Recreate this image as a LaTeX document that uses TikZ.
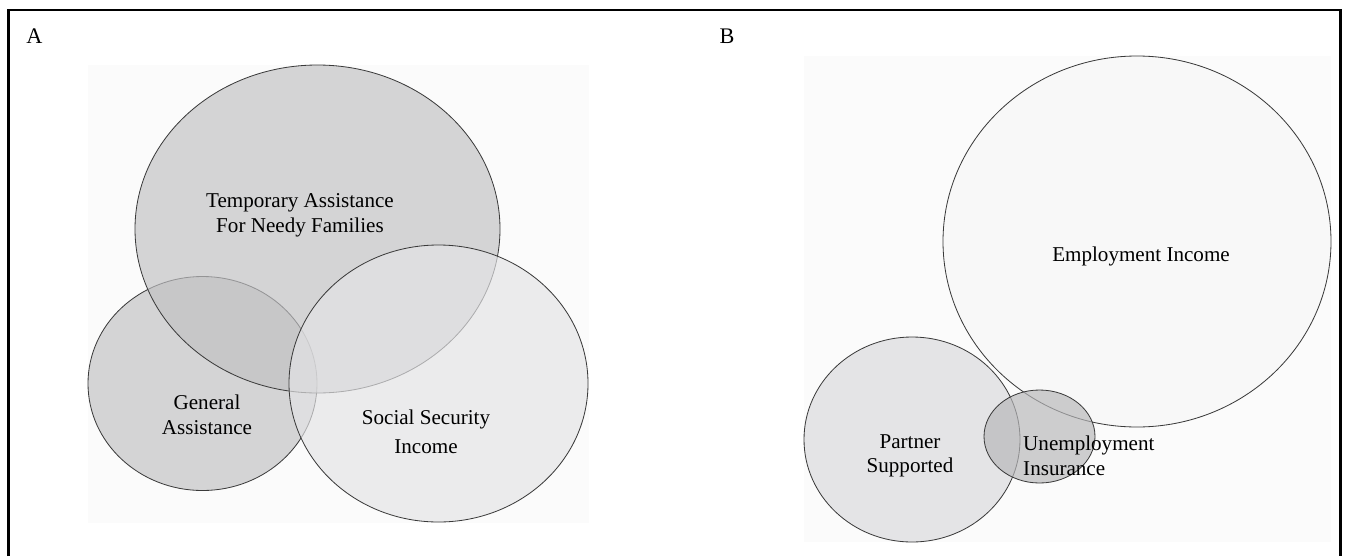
\documentclass[tikz,border=0pt]{standalone}
\usepackage{fontspec}
\setmainfont{Liberation Serif}
\definecolor{setA}{HTML}{C1C1C3}
\definecolor{setB}{HTML}{E4E4E6}
\definecolor{setP}{HTML}{DADADC}
\definecolor{setU}{HTML}{B7B7B9}
\definecolor{setE}{HTML}{F7F7F7}
\definecolor{panelbg}{HTML}{FBFBFB}
\definecolor{rimgray}{HTML}{3A3A3A}
\tikzset{
  venn/.style={draw=rimgray,line width=0.7pt,fill opacity=0.67},
  lbl/.style={font=\fontsize{18}{21}\selectfont,align=center,inner sep=0pt},
  tag/.style={font=\fontsize{19}{23}\selectfont,inner sep=0pt},
}
\begin{document}
\begin{tikzpicture}[x=0.03cm,y=-0.03cm]
  \useasboundingbox (0,0) rectangle (1349,556);
  % frame (bottom edge is cut off)
  \draw[line width=2.2pt] (8.5,556) -- (8.5,10) -- (1340.5,10) -- (1340.5,556);
  % panel A
  \begin{scope}
    \fill[panelbg] (88,65) rectangle (589,523);
    \node[tag] (labA) at (34.5,36.5) {A};
    \filldraw[venn,fill=setA] (202.5,383.5) ellipse [x radius=114.5,y radius=107];
    \filldraw[venn,fill=setA] (317.5,229) ellipse [x radius=182.5,y radius=164];
    \filldraw[venn,fill=setB] (438.5,383.5) ellipse [x radius=149.5,y radius=138.5];
    \node[lbl] (tanf) at (300,215) {Temporary Assistance\\For Needy Families};
    \node[lbl] (ga) at (207,415) {General\\Assistance};
    \node[lbl] (ssi) at (426,432) {Social Security\\[4pt]Income};
  \end{scope}
  % panel B
  \begin{scope}
    \fill[panelbg] (804,56) rectangle (1331,542);
    \node[tag] (labB) at (727,36.5) {B};
    \filldraw[venn,fill=setE] (1137,241.5) ellipse [x radius=194,y radius=185.5];
    \filldraw[venn,fill=setP] (912,439.5) ellipse [x radius=108,y radius=102.5];
    \filldraw[venn,fill=setU] (1039.5,436.5) ellipse [x radius=55.5,y radius=46.5];
    \node[lbl] (emp) at (1141,256) {Employment Income};
    \node[lbl] (ps) at (910,456) {Partner\\Supported};
    \node[lbl,align=left,anchor=west] (ui) at (1023,456) {Unemployment\\Insurance};
  \end{scope}
\end{tikzpicture}
\end{document}
